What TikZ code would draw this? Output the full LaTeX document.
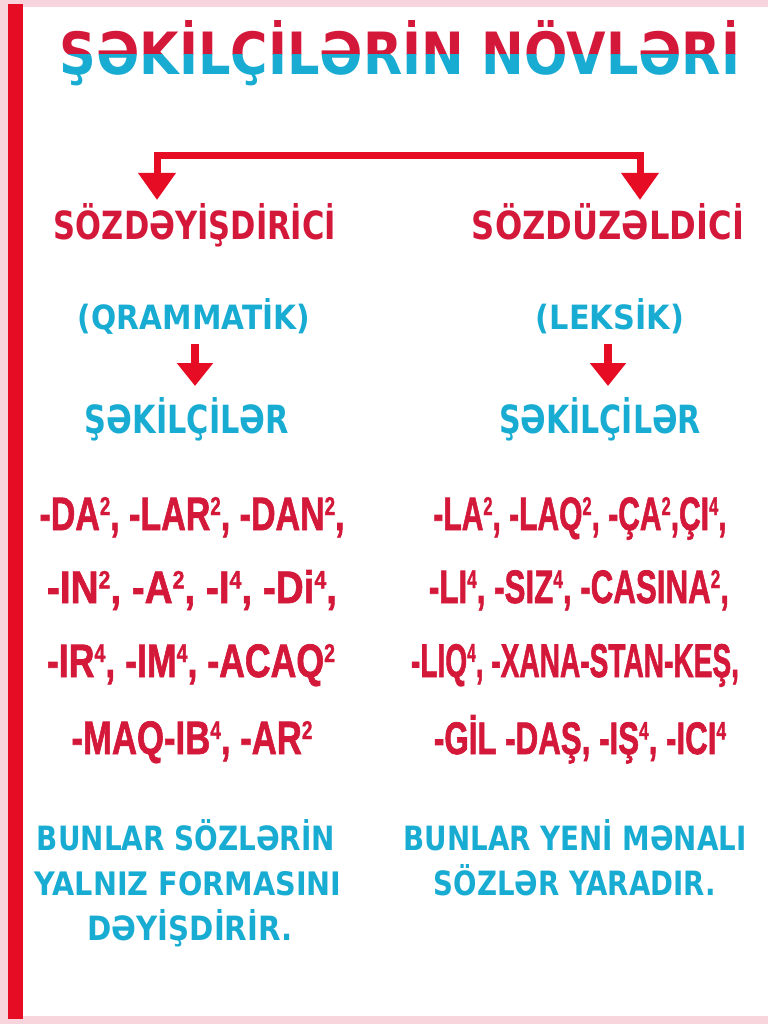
\documentclass[tikz,border=0pt]{standalone}
\usepackage{fontspec}
\usepackage{graphicx}
\setmainfont{DejaVu Sans}
\newfontfamily\condfont{Liberation Sans Bold}[FakeBold=1.6]
\usetikzlibrary{arrows.meta}
\definecolor{mred}{RGB}{212,24,58}
\definecolor{mcyan}{RGB}{24,172,210}
\definecolor{barred}{RGB}{230,12,36}
\definecolor{pinkbg}{RGB}{248,212,220}
\newcommand\supd[1]{\raisebox{0.32em}{\scalebox{0.55}{#1}}}
\newcommand\fitw[3]{\resizebox{#1pt}{#2pt}{#3}}
\tikzset{
  txt/.style={inner sep=0pt, anchor=base},
  head/.style={txt, text=mred, font=\bfseries},
  blue/.style={txt, text=mcyan, font=\bfseries},
  suff/.style={txt, text=mred, font=\condfont\bfseries},
  conn/.style={draw=barred, line width=7pt},
  bigarr/.style={conn, -{Triangle[width=36pt,length=27pt]}},
  smallarr/.style={draw=barred, line width=8pt, -{Triangle[width=35pt,length=23pt]}}
}
\begin{document}
\begin{tikzpicture}[x=1pt,y=-1pt]
\useasboundingbox (0,0) rectangle (768,1024);
% frame
\fill[white] (0,0) rectangle (768,1024);
\fill[pinkbg] (0,0) rectangle (768,7);
\fill[pinkbg] (0,1016) rectangle (768,1024);
\fill[pinkbg] (0,0) rectangle (8,1024);
\fill[barred] (8,4) rectangle (23,1019);
% title two-tone
\begin{scope}
\clip (0,0) rectangle (768,55);
\node[txt, text=mred, font=\bfseries] (title) at (400,75) {\fitw{680}{54}{ŞƏKİLÇİLƏRİN NÖVLƏRİ}};
\end{scope}
\begin{scope}
\clip (0,55) rectangle (768,110);
\node[txt, text=mcyan, font=\bfseries] (titleb) at (400,75) {\fitw{680}{54}{ŞƏKİLÇİLƏRİN NÖVLƏRİ}};
\end{scope}
% headings
\node[head] (s1) at (195,240) {\fitw{282}{36}{SÖZDƏYİŞDİRİCİ}};
\node[head] (s2) at (608,240) {\fitw{272}{36}{SÖZDÜZƏLDİCİ}};
\node[blue] (q1) at (194,329) {\fitw{232}{31}{(QRAMMATİK)}};
\node[blue] (q2) at (610,329) {\fitw{148}{31}{(LEKSİK)}};
\node[blue] (k1) at (187,433) {\fitw{204}{36}{ŞƏKİLÇİLƏR}};
\node[blue] (k2) at (600,433) {\fitw{202}{36}{ŞƏKİLÇİLƏR}};
% connectors
\coordinate (hl) at (157,156);
\coordinate (hr) at (640,156);
\coordinate (tl) at (157,200);
\coordinate (tr) at (640,200);
\draw[conn] ([xshift=-3.5pt]hl) -- ([xshift=3.5pt]hr);
\draw[bigarr] (hl) -- (tl);
\draw[bigarr] (hr) -- (tr);
\coordinate (al) at (195,344);
\coordinate (bl) at (195,386);
\coordinate (ar) at (608,344);
\coordinate (br) at (608,386);
\draw[smallarr] (al) -- (bl);
\draw[smallarr] (ar) -- (br);
% suffix lists left
\node[suff] (l1) at (192,530) {\fitw{305}{33}{-DA\supd{2}, -LAR\supd{2}, -DAN\supd{2},}};
\node[suff] (l2) at (192,603) {\fitw{290}{33}{-IN\supd{2}, -A\supd{2}, -I\supd{4}, -Di\supd{4},}};
\node[suff] (l3) at (191,677) {\fitw{288}{33}{-IR\supd{4}, -IM\supd{4}, -ACAQ\supd{2}}};
\node[suff] (l4) at (192,754) {\fitw{241}{33}{-MAQ-IB\supd{4}, -AR\supd{2}}};
% suffix lists right
\node[suff] (r1) at (580,530) {\fitw{293}{33}{-LA\supd{2}, -LAQ\supd{2}, -ÇA\supd{2},ÇI\supd{4},}};
\node[suff] (r2) at (579,603) {\fitw{300}{33}{-LI\supd{4}, -SIZ\supd{4}, -CASINA\supd{2},}};
\node[suff] (r3) at (575,677) {\fitw{328}{33}{-LIQ\supd{4}, -XANA-STAN-KEŞ,}};
\node[suff] (r4) at (580,754) {\fitw{292}{39}{-GİL -DAŞ, -IŞ\supd{4}, -ICI\supd{4}}};
% bottom notes
\node[blue] (n1) at (186,850) {\fitw{298}{31}{BUNLAR SÖZLƏRİN}};
\node[blue] (n2) at (188,895) {\fitw{307}{24}{YALNIZ FORMASINI}};
\node[blue] (n3) at (190,940) {\fitw{205}{31}{DƏYİŞDİRİR.}};
\node[blue] (m1) at (575,850) {\fitw{343}{31}{BUNLAR YENİ MƏNALI}};
\node[blue] (m2) at (575,895) {\fitw{282}{31}{SÖZLƏR YARADIR.}};
\end{tikzpicture}
\end{document}
